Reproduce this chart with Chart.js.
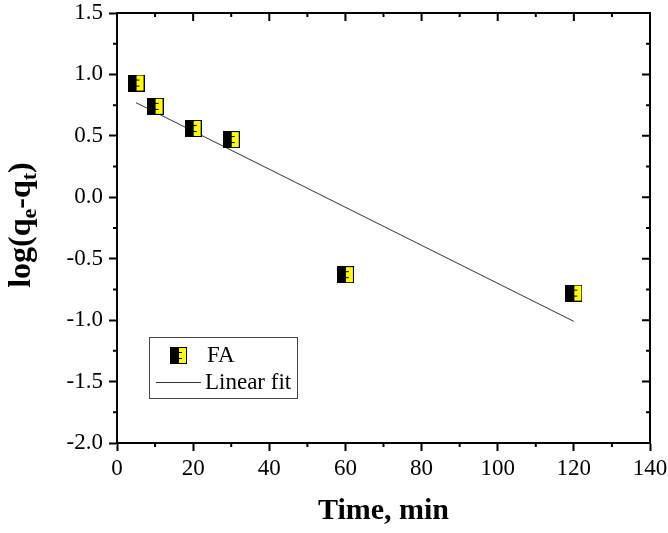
<!DOCTYPE html>
<html><head><meta charset="utf-8">
<script src="https://cdn.jsdelivr.net/npm/chart.js@4/dist/chart.umd.min.js"></script>
<style>html,body{margin:0;padding:0;background:#fff}#wrap{width:668px;height:533px}</style>
</head><body><div id="wrap"><canvas id="c" width="668" height="533"></canvas></div>
<script>
// ---- data ----
const timeMin = [5, 10, 20, 30, 60, 120];
const logQ = [0.93, 0.74, 0.56, 0.47, -0.63, -0.78];
const fitX = [5, 120];
const fitY = [0.77, -1.01];
const xTicks = [0, 20, 40, 60, 80, 100, 120, 140];
const yTicks = [-2.0, -1.5, -1.0, -0.5, 0.0, 0.5, 1.0, 1.5];
const seriesLabel = 'FA';
const fitLabel = 'Linear fit';
const xTitle = 'Time, min';

const FONT = "'Liberation Serif', 'Times New Roman', serif";

// marker: half black / half yellow square
function makeMarker(){
  const s = 17, c = document.createElement('canvas');
  c.width = s; c.height = s;
  const g = c.getContext('2d');
  g.fillStyle = '#000'; g.fillRect(0,0,s,s);
  g.fillStyle = '#FFFF00'; g.fillRect(9,1,7,s-2);
  g.fillStyle = '#000';
  g.fillRect(9,5,3,1); g.fillRect(9,11,3,1);
  return c;
}
const marker = makeMarker();

function midpoints(arr){ const m=[]; for(let i=0;i<arr.length-1;i++) m.push((arr[i]+arr[i+1])/2); return m; }

const framePlugin = {
  id: 'frame',
  afterDraw(chart){
    const ctx = chart.ctx, ca = chart.chartArea;
    const xs = chart.scales.x, ys = chart.scales.y;
    ctx.save();
    ctx.strokeStyle = '#000'; ctx.lineWidth = 2;
    ctx.beginPath();
    ctx.moveTo(ca.left, ca.top); ctx.lineTo(ca.right, ca.top); ctx.lineTo(ca.right, ca.bottom);
    ctx.stroke();
    ctx.beginPath();
    midpoints(xTicks).forEach(v=>{ const p = xs.getPixelForValue(v);
      ctx.moveTo(p, ca.bottom); ctx.lineTo(p, ca.bottom+4);
      ctx.moveTo(p, ca.top); ctx.lineTo(p, ca.top+4); });
    midpoints(yTicks).forEach(v=>{ const p = ys.getPixelForValue(v);
      ctx.moveTo(ca.left, p); ctx.lineTo(ca.left-4, p);
      ctx.moveTo(ca.right, p); ctx.lineTo(ca.right-4, p); });
    xTicks.forEach(v=>{ const p = xs.getPixelForValue(v);
      ctx.moveTo(p, ca.top); ctx.lineTo(p, ca.top+8); });
    yTicks.forEach(v=>{ const p = ys.getPixelForValue(v);
      ctx.moveTo(ca.right, p); ctx.lineTo(ca.right-8, p); });
    ctx.stroke();

    // legend box
    const lx = ca.left + 32, ly = ca.top + 324;
    ctx.lineWidth = 1; ctx.strokeStyle = '#444';
    ctx.strokeRect(lx+0.5, ly+0.5, 148, 61);
    ctx.drawImage(marker, lx + 29 - 8, ly + 18 - 8);
    ctx.fillStyle = '#000';
    ctx.font = '23px ' + FONT;
    ctx.textBaseline = 'middle'; ctx.textAlign = 'left';
    ctx.fillText(chart.data.datasets[1].label, lx + 58, ly + 19);
    ctx.strokeStyle = '#333'; ctx.lineWidth = 1;
    ctx.beginPath(); ctx.moveTo(lx + 7, ly + 45.5); ctx.lineTo(lx + 52, ly + 45.5); ctx.stroke();
    ctx.fillText(chart.data.datasets[0].label, lx + 56, ly + 46);

    // y-axis title with subscripts
    const parts = [
      {t:'log(q', sub:false}, {t:'e', sub:true}, {t:'-q', sub:false}, {t:'t', sub:true}, {t:')', sub:false}
    ];
    const big = 'bold 32px ' + FONT, small = 'bold 22px ' + FONT;
    let total = 0;
    parts.forEach(p=>{ ctx.font = p.sub ? small : big; p.w = ctx.measureText(p.t).width; total += p.w; });
    ctx.translate(30, (ca.top + ca.bottom)/2 - 3);
    ctx.rotate(-Math.PI/2);
    ctx.textBaseline = 'alphabetic'; ctx.textAlign = 'left';
    let x = -total/2;
    parts.forEach(p=>{ ctx.font = p.sub ? small : big; ctx.fillText(p.t, x, p.sub ? 6 : 0); x += p.w; });
    ctx.restore();
  }
};

new Chart(document.getElementById('c'), {
  type: 'scatter',
  data: {
    datasets: [
      { type:'line', label: fitLabel, data: fitX.map((x,i)=>({x, y: fitY[i]})),
        borderColor:'#333', borderWidth:1, pointRadius:0, fill:false, order:2 },
      { label: seriesLabel, data: timeMin.map((x,i)=>({x, y: logQ[i]})),
        pointStyle: marker, pointRadius: 8.5, showLine:false, order:1, clip:false }
    ]
  },
  options: {
    responsive:false, animation:false, devicePixelRatio:1,
    layout:{ padding:{ top:13, right:18, left:0, bottom:0 } },
    plugins:{ legend:{display:false}, tooltip:{enabled:false} },
    scales:{
      x:{ type:'linear', min:0, max:140,
        afterBuildTicks: s=>{ s.ticks = xTicks.map(v=>({value:v})); },
        afterFit: s=>{ s.height = 90; s.paddingLeft = 0; s.paddingRight = 0; },
        ticks:{ font:{family:FONT, size:23}, color:'#000', padding:4, callback:v=>String(v) },
        grid:{ drawOnChartArea:false, tickLength:8, tickWidth:2, tickColor:'#000' },
        border:{ color:'#000', width:2 },
        title:{ display:true, text:xTitle, color:'#000', font:{family:FONT, size:30, weight:'bold'}, padding:{top:0, bottom:4} }
      },
      y:{ type:'linear', min:-2, max:1.5,
        afterBuildTicks: s=>{ s.ticks = yTicks.map(v=>({value:v})); },
        afterFit: s=>{ s.width = 117; s.paddingTop = 0; s.paddingBottom = 0; },
        ticks:{ font:{family:FONT, size:23}, color:'#000', padding:6, callback:v=>Number(v).toFixed(1) },
        grid:{ drawOnChartArea:false, tickLength:8, tickWidth:2, tickColor:'#000' },
        border:{ color:'#000', width:2 }
      }
    }
  },
  plugins:[framePlugin]
});
</script>
</body></html>
